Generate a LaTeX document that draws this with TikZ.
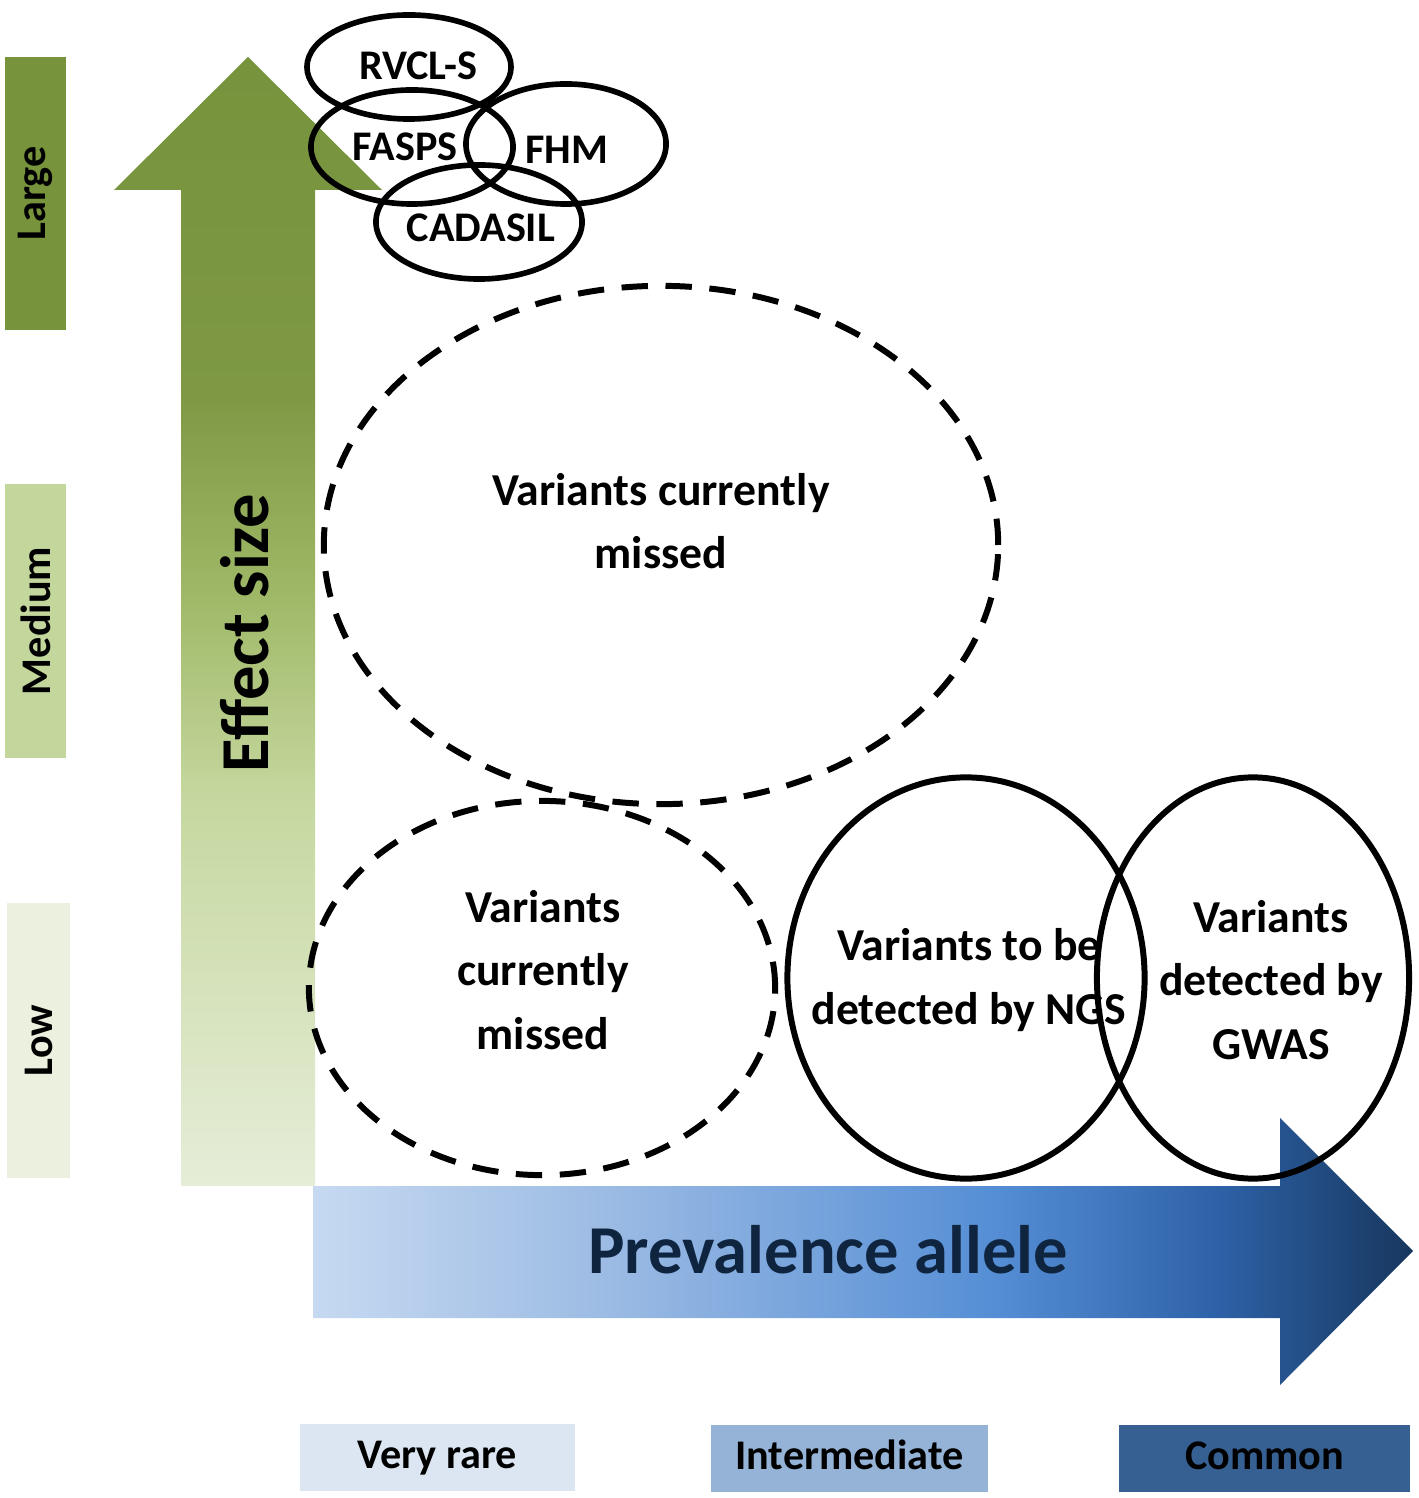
\documentclass[tikz,border=0pt]{standalone}
\usepackage{fontspec}
\setmainfont{Carlito}
\usetikzlibrary{shapes.geometric}
\definecolor{greendark}{HTML}{77933C}
\definecolor{greenmid}{HTML}{C3D69B}
\definecolor{greenpale}{HTML}{EBF1DE}
\definecolor{greenlow}{HTML}{E6EDD8}
\definecolor{greenfa}{HTML}{C6D8A0}
\definecolor{greenfb}{HTML}{A0B968}
\definecolor{greenfc}{HTML}{7E9844}
\definecolor{bluelow}{HTML}{C6D9F1}
\definecolor{bluea}{HTML}{9DBCE4}
\definecolor{blueb}{HTML}{558ED5}
\definecolor{bluec}{HTML}{2E62A8}
\definecolor{bluetip}{HTML}{17375E}
\definecolor{navytext}{HTML}{0F243E}
\definecolor{rarebox}{HTML}{DCE6F2}
\definecolor{midbox}{HTML}{95B3D7}
\definecolor{commonbox}{HTML}{376092}
\pgfdeclareverticalshading{greenfade}{100bp}{color(0bp)=(greenlow); color(25bp)=(greenlow); color(42bp)=(greenfa); color(51bp)=(greenfb); color(60bp)=(greenfc); color(75bp)=(greendark); color(100bp)=(greendark)}
\pgfdeclarehorizontalshading{bluefade}{100bp}{color(0bp)=(bluelow); color(25bp)=(bluelow); color(38bp)=(bluea); color(56bp)=(blueb); color(66bp)=(bluec); color(75bp)=(bluetip); color(100bp)=(bluetip)}
\begin{document}
\begin{tikzpicture}[x=0.01cm, y=-0.01cm,
  scalebar/.style={rectangle, inner sep=0pt, rotate=90, minimum width=2.73cm, minimum height=0.61cm, font=\bfseries\fontsize{12}{14}\selectfont},
  ratebox/.style={rectangle, inner sep=0pt, minimum height=0.66cm, text height=8pt, text depth=2pt, font=\bfseries\fontsize{12}{14}\selectfont},
  disease/.style={ellipse, draw, line width=1.6pt, inner sep=0pt},
  dtxt/.style={font=\bfseries\fontsize{12}{14}\selectfont},
  missed/.style={ellipse, draw, dash pattern=on 7.5pt off 5pt, line width=1.7pt, inner sep=0pt},
  study/.style={ellipse, draw, line width=1.7pt, inner sep=0pt},
  lbl/.style={align=center, font=\bfseries\fontsize{13}{18}\selectfont},
  axislbl/.style={font=\bfseries\fontsize{19.5}{22}\selectfont}]
  \useasboundingbox (0,0) rectangle (1418,1498);
  % Effect size scale
  \node[scalebar, fill=greendark] (large) at (35.5,193.5) {Large};
  \node[scalebar, fill=greenmid] (medium) at (35.5,621) {Medium};
  \node[scalebar, fill=greenpale, minimum width=2.75cm, minimum height=0.63cm] (low) at (38.5,1040.5) {Low};
  % Arrows
  \path[shading=greenfade] (181,1186) -- (181,190) -- (114,190) -- (248,57) -- (382,190) -- (315,190) -- (315,1186) -- cycle;
  \path[shading=bluefade] (313,1186) -- (1280,1186) -- (1280,1118) -- (1413,1251) -- (1280,1385) -- (1280,1318) -- (313,1318) -- cycle;
  \node[axislbl, rotate=90] (effect) at (245,633) {Effect size};
  \node[axislbl, text=navytext] (prev) at (828,1250) {Prevalence allele};
  % Prevalence scale
  \node[ratebox, fill=rarebox, minimum width=2.75cm] (rare) at (437.5,1457.5) {Very rare};
  \node[ratebox, fill=midbox, minimum width=2.77cm] (inter) at (849.5,1458.5) {Intermediate};
  \node[ratebox, fill=commonbox, minimum width=2.91cm] (common) at (1264.5,1458.5) {Common};
  % Monogenic diseases
  \node[disease, minimum width=2.04cm, minimum height=1.04cm] (rvcl) at (409,67) {};
  \node[disease, minimum width=2.02cm, minimum height=1.14cm] (fasps) at (412,147) {};
  \node[disease, minimum width=2.0cm, minimum height=1.2cm] (fhm) at (566,144) {};
  \node[disease, minimum width=2.06cm, minimum height=1.14cm] (cadasil) at (479,222) {};
  \node[dtxt] (rvcltxt) at (418,66) {RVCL-S};
  \node[dtxt] (faspstxt) at (405,147) {FASPS};
  \node[dtxt] (fhmtxt) at (567,150) {FHM};
  \node[dtxt] (cadasiltxt) at (481,228) {CADASIL};
  % Variant groups
  \node[missed, minimum width=6.74cm, minimum height=5.18cm] (gapmed) at (661,545) {};
  \node[lbl] (gapmedtxt) at (661,521) {Variants currently\\missed};
  \node[missed, minimum width=4.66cm, minimum height=3.74cm] (gaplow) at (542,988) {};
  \node[lbl] (gaplowtxt) at (543,970) {Variants\\currently\\missed};
  \node[study, minimum width=3.57cm, minimum height=4.01cm] (ngs) at (966,978) {};
  \node[lbl] (ngstxt) at (969,980) {Variants to be\\detected by NGS};
  \node[study, minimum width=3.12cm, minimum height=4.01cm] (gwas) at (1253,978) {};
  \node[lbl] (gwastxt) at (1271,980) {Variants\\detected by\\GWAS};
\end{tikzpicture}
\end{document}
